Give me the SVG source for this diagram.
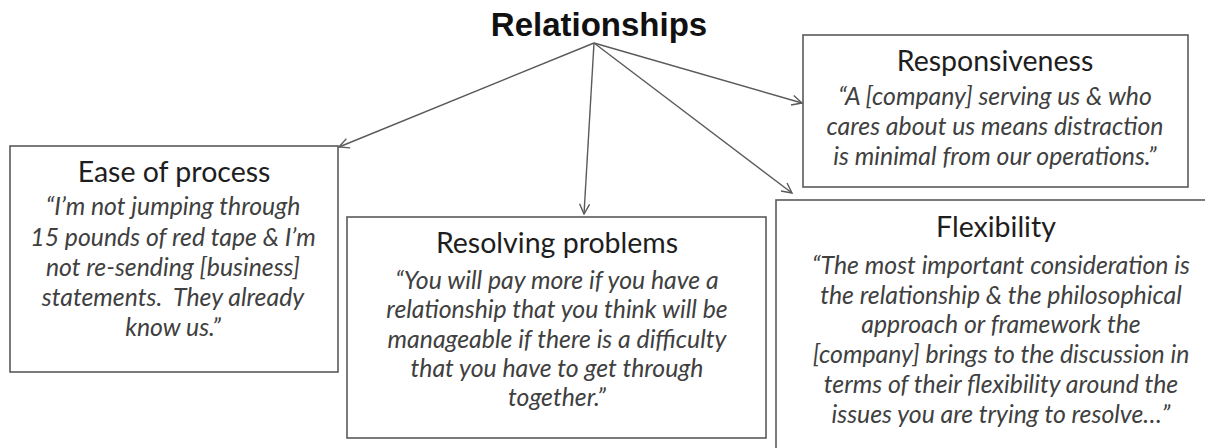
<svg xmlns="http://www.w3.org/2000/svg" width="1205" height="448" viewBox="0 0 1205 448">
<style>
.box{fill:#ffffff;stroke:#5a5a5a;stroke-width:1.6}
.title{font-family:"Lato","Liberation Sans",sans-serif;font-size:28.5px;fill:#1e1e1e;text-anchor:middle}
.quote{font-family:"Lato","Liberation Sans",sans-serif;font-style:italic;font-size:24.8px;fill:#404040;text-anchor:middle}
.main{font-family:"Liberation Sans",Arial,sans-serif;font-weight:bold;font-size:33px;fill:#111111;text-anchor:middle}
.conn{stroke:#5a5a5a;stroke-width:1.4;fill:none}
</style>
<defs>
<marker id="arr" viewBox="0 0 12 12" refX="11" refY="6" markerWidth="12" markerHeight="12" markerUnits="userSpaceOnUse" orient="auto">
<path d="M1,1 L11,6 L1,11" fill="none" stroke="#5a5a5a" stroke-width="1.4"/>
</marker>
</defs>
<rect width="1205" height="448" fill="#ffffff"/>
<g id="relationships">
<text class="main" x="599" y="36">Relationships</text>
</g>
<g id="ease">
<rect class="box" x="10" y="146" width="328" height="226"/>
<text class="title" x="174" y="182">Ease of process</text>
<text class="quote" x="173" y="215">“I’m not jumping through</text>
<text class="quote" x="173" y="246">15 pounds of red tape &amp; I’m</text>
<text class="quote" x="173" y="276">not re-sending [business]</text>
<text class="quote" x="173" y="306" xml:space="preserve">statements.  They already</text>
<text class="quote" x="173" y="336">know us.”</text>
</g>
<g id="resolving">
<rect class="box" x="347" y="217" width="419" height="221"/>
<text class="title" x="557" y="253">Resolving problems</text>
<text class="quote" x="557" y="289">“You will pay more if you have a</text>
<text class="quote" x="557" y="318">relationship that you think will be</text>
<text class="quote" x="557" y="348">manageable if there is a difficulty</text>
<text class="quote" x="557" y="377">that you have to get through</text>
<text class="quote" x="557" y="406">together.”</text>
</g>
<g id="responsiveness">
<rect class="box" x="803" y="35" width="385" height="152"/>
<text class="title" x="995" y="71">Responsiveness</text>
<text class="quote" x="995" y="105">“A [company] serving us &amp; who</text>
<text class="quote" x="995" y="135">cares about us means distraction</text>
<text class="quote" x="995" y="165">is minimal from our operations.”</text>
</g>
<g id="flexibility">
<rect class="box" x="776" y="200" width="460" height="270"/>
<text class="title" x="996" y="237">Flexibility</text>
<text class="quote" x="1001" y="274">“The most important consideration is</text>
<text class="quote" x="1001" y="304">the relationship &amp; the philosophical</text>
<text class="quote" x="1001" y="333">approach or framework the</text>
<text class="quote" x="1001" y="363">[company] brings to the discussion in</text>
<text class="quote" x="1001" y="393">terms of their flexibility around the</text>
<text class="quote" x="1001" y="423">issues you are trying to resolve…”</text>
</g>
<g id="connectors">
<line class="conn" x1="594" y1="43" x2="339" y2="147" marker-end="url(#arr)"/>
<line class="conn" x1="594" y1="43" x2="584" y2="214" marker-end="url(#arr)"/>
<line class="conn" x1="594" y1="43" x2="802" y2="103" marker-end="url(#arr)"/>
<line class="conn" x1="594" y1="43" x2="792" y2="193" marker-end="url(#arr)"/>
</g>
</svg>
